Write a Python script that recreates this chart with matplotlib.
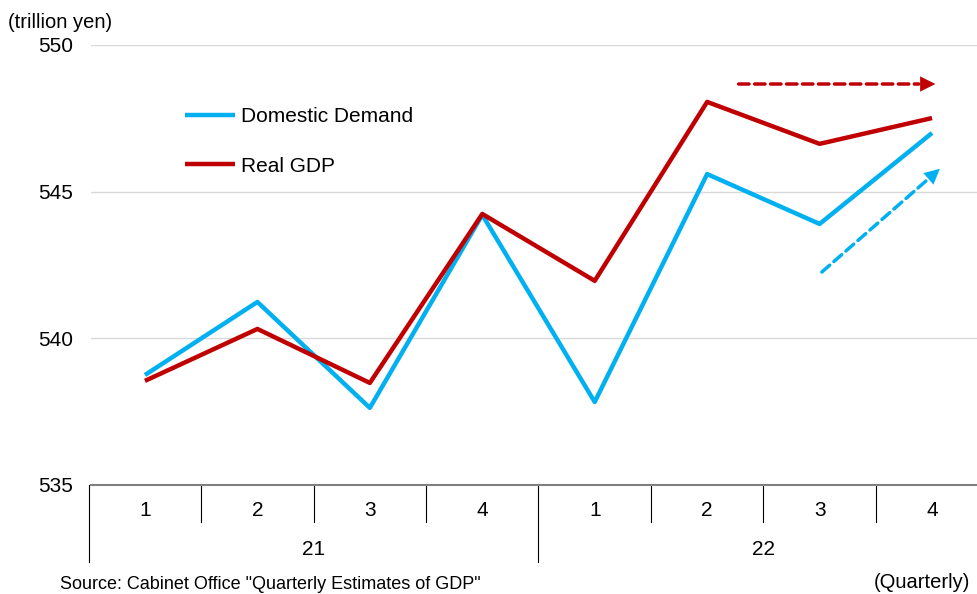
import matplotlib.pyplot as plt
import numpy as np

plt.rcParams['font.family'] = ['Liberation Sans', 'DejaVu Sans']

# Werte (Billionen Yen), quartalsweise 2021-2022
quarters = ['1', '2', '3', '4', '1', '2', '3', '4']
years = ['21', '22']
domestic_demand = [538.75, 541.24, 537.63, 544.21, 537.83, 545.60, 543.90, 547.00]
real_gdp = [538.55, 540.32, 538.48, 544.24, 541.96, 548.06, 546.63, 547.51]

blue = '#00B0F0'
red = '#C00000'

fig = plt.figure(figsize=(9.77, 5.94), dpi=100)
ax = fig.add_axes([91 / 977, 109 / 594, 886 / 977, 440 / 594])

x = np.arange(len(quarters))
ax.plot(x, domestic_demand, color=blue, lw=3.2, solid_capstyle='butt', label='Domestic Demand')
ax.plot(x, real_gdp, color=red, lw=3.2, solid_capstyle='butt', label='Real GDP')


def dashed_arrow(start, end, color):
    # gestrichelter Schaft, gefüllte Spitze separat (sonst wird die Spitze gestrichelt)
    ax.annotate('', xy=end, xytext=start,
                arrowprops=dict(arrowstyle='-', color=color, lw=2.5,
                                linestyle=(0, (3, 1.6)), shrinkA=0, shrinkB=12))
    ax.annotate('', xy=end, xytext=start,
                arrowprops=dict(arrowstyle='-|>,head_length=1.1,head_width=0.55',
                                color=color, lw=0, shrinkA=0, shrinkB=0))


dashed_arrow((5.28, 548.67), (7.03, 548.67), red)
dashed_arrow((6.02, 542.26), (7.07, 545.78), blue)

ax.set_xlim(-0.48, 7.4)
ax.set_ylim(535, 550)
ax.set_yticks([535, 540, 545, 550])
ax.tick_params(axis='y', length=0, labelsize=15, pad=13)
ax.tick_params(axis='x', length=0, labelbottom=False)
ax.grid(axis='y', color='#d9d9d9', lw=1)
ax.set_axisbelow(True)
for s in ['top', 'right', 'left']:
    ax.spines[s].set_visible(False)
ax.spines['bottom'].set_color('#808080')
ax.spines['bottom'].set_linewidth(1.5)

# Kategorie-Achse mit Quartalen und Jahren
trans = ax.get_xaxis_transform()
for i in range(len(quarters) + 1):
    xb = i - 0.5
    long = i % 4 == 0 and i < len(quarters)
    y_end = -0.175 if long else -0.085
    ax.plot([xb, xb], [0, y_end], transform=trans, color='black', lw=0.8, clip_on=False)
for i, q in enumerate(quarters):
    ax.text(i, -0.057, q, transform=trans, ha='center', va='center', fontsize=15)
for j, yr in enumerate(years):
    ax.text(j * 4 + 1.5, -0.147, yr, transform=trans, ha='center', va='center', fontsize=15)

ax.legend(loc='upper left', bbox_to_anchor=(0.106, 0.858), frameon=False, fontsize=15,
          handlelength=2.4, handletextpad=0.3, labelspacing=1.45,
          borderpad=0, borderaxespad=0)

fig.text(8 / 977, 1 - 22 / 594, '(trillion yen)', ha='left', va='center', fontsize=14.5)
fig.text(970 / 977, 1 - 583 / 594, '(Quarterly)', ha='right', va='center', fontsize=14.5)
fig.text(60 / 977, 1 / 594, 'Source: Cabinet Office "Quarterly Estimates of GDP"',
         ha='left', va='bottom', fontsize=13)

fig.savefig('out.png', dpi=100)
